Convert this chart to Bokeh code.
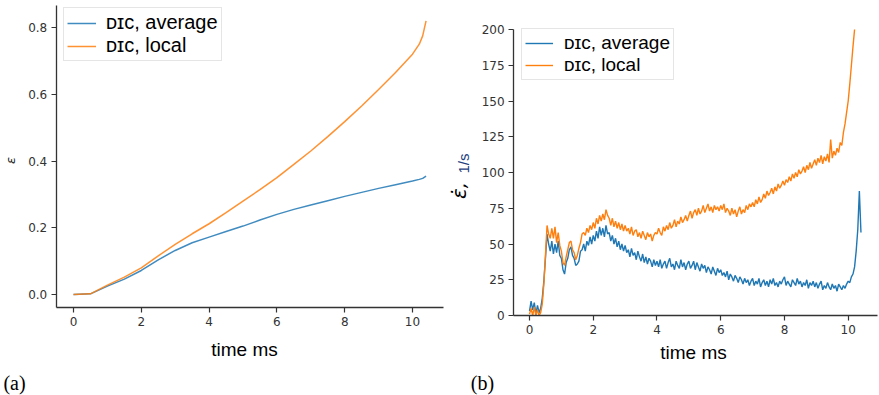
import numpy as np
from bokeh.plotting import figure
from bokeh.layouts import row
from bokeh.models import Range1d, FixedTicker, PrintfTickFormatter, Label
from bokeh.embed import file_html
from bokeh.resources import INLINE

# ---------------- panel (a): strain vs time ----------------
t_strain = [0, 0.5, 1, 1.5, 2, 2.5, 3, 3.5, 4, 4.5, 5, 5.5, 6, 6.5, 7, 7.5,
            8, 8.5, 9, 9.5, 10, 10.2, 10.3, 10.4]
strain_average = [0, 0.002, 0.025, 0.046, 0.072, 0.104, 0.132, 0.155, 0.172, 0.189,
                  0.205, 0.223, 0.240, 0.255, 0.268, 0.281, 0.294, 0.306, 0.318, 0.329,
                  0.340, 0.345, 0.348, 0.355]
strain_local = [0, 0.002, 0.028, 0.052, 0.080, 0.116, 0.150, 0.182, 0.212, 0.245,
                0.280, 0.314, 0.350, 0.390, 0.430, 0.473, 0.518, 0.565, 0.614, 0.665,
                0.720, 0.750, 0.775, 0.820]

# ---------------- panel (b): strain rate vs time (read every 0.05 ms) ----------------
rate_average = [
    3, 10, 4, 9, 1, 7, 2, 5, 12, 24, 40, 57, 50, 45, 52, 43, 50, 44, 52, 42,
    40, 32, 29, 37, 40, 46, 48, 42, 40, 35, 36, 38, 45, 46, 50, 45, 52, 49, 55, 50,
    56, 52, 59, 54, 62, 56, 61, 55, 63, 57, 58, 52, 56, 50, 54, 48, 52, 46, 50, 45,
    49, 44, 46, 41, 47, 42, 44, 39, 45, 41, 38, 43, 37, 41, 36, 40, 38, 34, 39, 35,
    38, 34, 39, 33, 36, 38, 33, 37, 40, 34, 36, 32, 38, 35, 33, 39, 34, 37, 32, 36,
    38, 33, 35, 38, 32, 37, 34, 31, 36, 33, 35, 30, 34, 32, 29, 34, 31, 28, 33, 30,
    32, 28, 30, 27, 31, 25, 29, 27, 24, 28, 26, 23, 27, 25, 22, 26, 23, 25, 21, 24,
    26, 21, 24, 22, 26, 20, 23, 25, 21, 24, 20, 25, 22, 26, 21, 23, 20, 24, 22, 25,
    27, 21, 24, 22, 20, 25, 23, 21, 26, 22, 24, 20, 23, 21, 25, 19, 23, 21, 24, 20,
    23, 19, 22, 24, 18, 21, 19, 23, 20, 18, 22, 19, 21, 17, 22, 20, 18, 21, 19, 22,
    24, 23, 27, 29, 34, 45, 60, 87, 58,
]
rate_local = [
    1, 5, 0, 6, 0, 4, 0, 2, 8, 22, 42, 63, 57, 54, 61, 54, 62, 51, 58, 49,
    45, 37, 35, 41, 46, 51, 52, 46, 44, 39, 42, 47, 51, 57, 58, 56, 61, 58, 63, 60,
    65, 61, 68, 64, 70, 66, 71, 67, 74, 70, 68, 63, 68, 62, 66, 61, 65, 60, 64, 59,
    63, 59, 61, 57, 62, 56, 59, 60, 55, 58, 54, 59, 56, 53, 58, 55, 57, 52, 56, 58,
    57, 61, 58, 56, 62, 59, 63, 60, 65, 61, 63, 67, 62, 66, 64, 69, 65, 67, 70, 66,
    70, 73, 68, 72, 74, 70, 75, 71, 73, 77, 72, 75, 78, 73, 76, 72, 77, 74, 76, 73,
    77, 74, 78, 72, 75, 73, 70, 75, 71, 74, 69, 73, 76, 71, 74, 72, 77, 74, 78, 76,
    79, 76, 81, 78, 83, 79, 81, 85, 82, 87, 84, 86, 89, 85, 90, 87, 92, 89, 91, 94,
    91, 95, 93, 97, 94, 99, 96, 100, 97, 102, 99, 101, 104, 100, 105, 102, 107, 103, 106, 109,
    105, 110, 107, 112, 106, 111, 108, 113, 107, 123, 110, 115, 112, 117, 114, 121, 119, 128, 134, 142,
    150, 162, 175, 188, 200,
]
sample_step_ms = 0.05
t_rate_average = np.round(np.arange(len(rate_average)) * sample_step_ms, 2)
t_rate_local = t_rate_average[:len(rate_local)]

x_ticks = [0, 2, 4, 6, 8, 10]
strain_ticks = [0.0, 0.2, 0.4, 0.6, 0.8]
rate_ticks = [0, 25, 50, 75, 100, 125, 150, 175, 200]
legend_labels = ["\u1d05\u026a\u1d04, average", "\u1d05\u026a\u1d04, local"]
strain_xlim = (-0.51, 10.91)
strain_ylim = (-0.039, 0.866)
rate_xlim = (-0.5, 10.92)
rate_ylim = (0, 200)

BLUE = "#1f77b4"
ORANGE = "#ff7f0e"
AX = "#333333"
H = 395


def style(p, xlim, ylim, yticks, yfmt):
    p.outline_line_color = None
    p.grid.visible = False
    p.background_fill_color = "white"
    p.border_fill_color = "white"
    for ax in (p.xaxis[0], p.yaxis[0]):
        ax.axis_line_color = AX
        ax.axis_line_width = 1.3
        ax.major_tick_line_color = AX
        ax.major_tick_line_width = 1.2
        ax.major_tick_out = 5
        ax.major_tick_in = 0
        ax.minor_tick_line_color = None
        ax.major_label_text_font = "DejaVu Sans"
        ax.major_label_text_font_size = "12px"
        ax.major_label_text_color = AX
        ax.major_label_standoff = 4
    p.xaxis[0].fixed_location = ylim[0]
    p.xaxis[0].bounds = xlim
    p.yaxis[0].fixed_location = xlim[0]
    p.yaxis[0].bounds = ylim
    p.xaxis.ticker = FixedTicker(ticks=x_ticks)
    p.yaxis.ticker = FixedTicker(ticks=yticks)
    p.yaxis.formatter = PrintfTickFormatter(format=yfmt)


def style_legend(p, loc, glyph_w, standoff, fsize):
    lg = p.legend[0]
    lg.location = loc
    lg.margin = 0
    lg.padding = 3
    lg.spacing = 0
    lg.glyph_width = glyph_w
    lg.glyph_height = 20
    lg.label_height = 20
    lg.label_standoff = standoff
    lg.label_text_font = "Liberation Sans"
    lg.label_text_font_size = fsize
    lg.label_text_color = "black"
    lg.border_line_color = "#cccccc"
    lg.border_line_width = 1
    lg.background_fill_color = "white"
    lg.background_fill_alpha = 0.85


def text(p, x, y, s, font, size, style="normal", color="black", angle=0.0):
    p.add_layout(Label(x=x, y=y, x_units="screen", y_units="screen", text=s,
                       angle=angle, text_align="center", text_baseline="middle",
                       text_font=font, text_font_size=size,
                       text_font_style=style, text_color=color))


# ---------- left figure (panel a) ----------
W1 = 445
p1 = figure(width=W1, height=H, x_range=Range1d(-2.1534, 10.9735),
            y_range=Range1d(-0.3026, 0.8809), output_backend="svg",
            toolbar_location=None, min_border=0)
p1.line(t_strain, strain_average, line_color=BLUE, line_width=1.5, line_alpha=0.85,
        legend_label=legend_labels[0])
p1.line(t_strain, strain_local, line_color=ORANGE, line_width=1.5, line_alpha=0.85,
        legend_label=legend_labels[1])
style(p1, strain_xlim, strain_ylim, strain_ticks, "%.1f")
style_legend(p1, (63, H - 61), 29, 10, "20px")
text(p1, 10, H - 160, "\u03b5", "DejaVu Sans", "13px", "italic", "#222222", np.pi / 2)
text(p1, 244, H - 349, "time ms", "Liberation Sans", "19px")
text(p1, 14, H - 382, "(a)", "Liberation Serif", "20px")

# ---------- right figure (panel b) ----------
W2 = 879 - W1
p2 = figure(width=W2, height=H, x_range=Range1d(-2.636, 10.982),
            y_range=Range1d(-55.94, 220.28), output_backend="svg",
            toolbar_location=None, min_border=0)
p2.line(t_rate_average, rate_average, line_color=BLUE, line_width=1.4,
        legend_label=legend_labels[0])
p2.line(t_rate_local, rate_local, line_color=ORANGE, line_width=1.4,
        legend_label=legend_labels[1])
style(p2, rate_xlim, rate_ylim, rate_ticks, "%d")
style_legend(p2, (76, H - 80), 28, 11, "19px")
text(p2, 463 - W1, H - 163, "1/s", "Liberation Sans", "15px", "normal", "#1f3f7f", np.pi / 2)
text(p2, 458 - W1, H - 190, "\u03b5\u0307,", "DejaVu Sans", "20px", "italic", "black", np.pi / 2)
text(p2, 693 - W1, H - 352, "time ms", "Liberation Sans", "19px")
text(p2, 482 - W1, H - 382, "(b)", "Liberation Serif", "20px")

layout = row(p1, p2)
open("out.html", "w").write(file_html(layout, INLINE))
